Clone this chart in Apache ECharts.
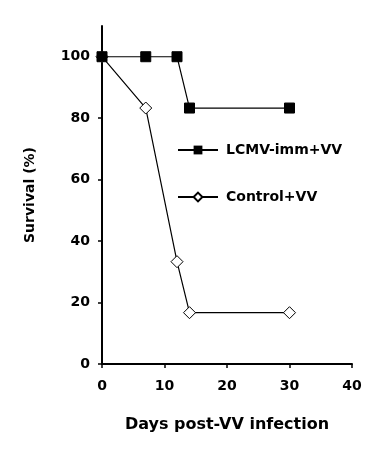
<!DOCTYPE html>
<html>
<head>
<meta charset="utf-8">
<script src="https://cdn.jsdelivr.net/npm/echarts@6/dist/echarts.min.js"></script>
<style>
  html, body { margin: 0; padding: 0; background: #fff; }
  #chart { width: 382px; height: 450px; }
</style>
</head>
<body>
<div id="chart"></div>
<script>
const days = [0, 7, 12, 14, 30];
const lcmvImm = [100, 100, 100, 83.3, 83.3];
const control = [100, 83.3, 33.3, 16.7, 16.7];
const yTicks = [0, 20, 40, 60, 80, 100];

const FONT = '"DejaVu Sans", Arial, sans-serif';
const INK = '#000';

const pairs = ys => days.map((d, i) => [d, ys[i]]);

const chart = echarts.init(document.getElementById('chart'));
chart.setOption({
  backgroundColor: '#fff',
  animation: false,
  grid: { left: 102, right: 30, top: 26, bottom: 86 },
  legend: {
    orient: 'vertical',
    left: 172,
    top: 138,
    itemGap: 33,
    itemWidth: 40,
    itemHeight: 11,
    textStyle: { fontFamily: FONT, fontWeight: 'bold', fontSize: 14, color: INK, padding: [0, 0, 0, 3] },
    data: ['LCMV-imm+VV', 'Control+VV'],
  },
  xAxis: {
    type: 'value',
    min: 0,
    max: 40,
    interval: 10,
    name: 'Days post-VV infection',
    nameLocation: 'middle',
    nameGap: 53,
    nameTextStyle: { fontFamily: FONT, fontWeight: 'bold', fontSize: 16, color: INK },
    axisLine: { show: true, lineStyle: { color: INK, width: 2 } },
    axisTick: { show: true, length: 4, lineStyle: { color: INK, width: 1.5 } },
    axisLabel: { fontFamily: FONT, fontWeight: 'bold', fontSize: 14, color: INK, margin: 15 },
    splitLine: { show: false },
  },
  yAxis: {
    type: 'value',
    min: 0,
    max: 110,
    interval: 20,
    axisLine: { show: true, lineStyle: { color: INK, width: 2 } },
    axisTick: { show: true, length: 4, customValues: yTicks, lineStyle: { color: INK, width: 1.5 } },
    axisLabel: { fontFamily: FONT, fontWeight: 'bold', fontSize: 14, color: INK, margin: 12, customValues: yTicks },
    splitLine: { show: false },
  },
  graphic: [{
    type: 'text',
    x: 30,
    y: 195,
    rotation: Math.PI / 2,
    style: {
      text: 'Survival (%)',
      font: 'bold 14px ' + FONT,
      fill: INK,
      align: 'center',
      verticalAlign: 'middle',
    },
  }],
  series: [
    {
      name: 'LCMV-imm+VV',
      type: 'line',
      data: pairs(lcmvImm),
      symbol: 'rect',
      symbolSize: 10,
      itemStyle: { color: INK, borderColor: INK },
      lineStyle: { color: INK, width: 1.2 },
      z: 3,
    },
    {
      name: 'Control+VV',
      type: 'line',
      data: pairs(control),
      symbol: 'diamond',
      symbolSize: 12,
      itemStyle: { color: '#fff', borderColor: INK, borderWidth: 1 },
      lineStyle: { color: INK, width: 1.2 },
      z: 2,
    },
  ],
});
</script>
</body>
</html>
